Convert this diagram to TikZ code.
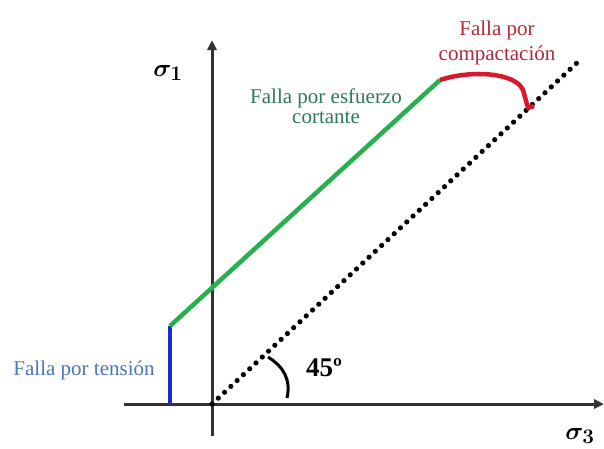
\documentclass[tikz,border=0pt]{standalone}
\usepackage{fontspec}
\setmainfont{Liberation Serif}
\usepackage{amsmath,bm}
\usetikzlibrary{arrows.meta}
\definecolor{axisgray}{RGB}{50,50,50}
\definecolor{shearg}{RGB}{40,175,80}
\definecolor{shearT}{RGB}{45,120,85}
\definecolor{compR}{RGB}{215,25,45}
\definecolor{compT}{RGB}{175,40,55}
\definecolor{tensB}{RGB}{30,40,215}
\definecolor{tensT}{RGB}{75,115,190}
\tikzset{
  axis/.style={draw=axisgray,line width=3pt,-{Triangle[length=10pt,width=9pt]}},
  lbl/.style={font=\fontsize{21}{20}\selectfont,align=center,inner sep=0pt},
  failline/.style={line width=4.5pt}
}
\begin{document}
\begin{tikzpicture}[x=1pt,y=-1pt]
\useasboundingbox (0,0) rectangle (604,448);
\coordinate (O) at (212,404);
\coordinate (xs) at (124,404);
\coordinate (xe) at (604,404);
\coordinate (ys) at (212,436);
\coordinate (ye) at (212,40);
\coordinate (B0) at (170,404);
\coordinate (B1) at (170,326);
\coordinate (G1) at (440,80);
\coordinate (D1) at (580,60);
\draw[axis] (xs) -- (xe);
\draw[axis] (ys) -- (ye);
\draw[line width=5.2pt,dash pattern=on 0pt off 8.6pt,line cap=round] (O) -- (D1);
\draw[failline,tensB] (B0) -- (B1);
\draw[failline,shearg] (B1) -- (G1);
\draw[failline,compR,line join=round] (G1) .. controls (470,70) and (515,72) .. (523,90) -- (528,108) -- (534,106);
\draw[line width=3pt] (268,357) .. controls (284,367) and (291,380) .. (287,398);
\node[inner sep=0pt] (s1) at (168,73) {\fontsize{29}{30}\selectfont$\bm{\sigma_1}$};
\node[inner sep=0pt] (s3) at (580,436) {\fontsize{29}{30}\selectfont$\bm{\sigma_3}$};
\node[inner sep=0pt,font=\fontsize{27}{28}\selectfont\bfseries] (ang) at (324,368) {45º};
\node[lbl,text=shearT] (tg) at (326,106) {Falla por esfuerzo\\cortante};
\node[lbl,text=compT,font=\fontsize{21}{25}\selectfont] (tc) at (497,43) {Falla por\\compactación};
\node[lbl,text=tensT] (tb) at (84,370) {Falla por tensión};
\end{tikzpicture}
\end{document}
